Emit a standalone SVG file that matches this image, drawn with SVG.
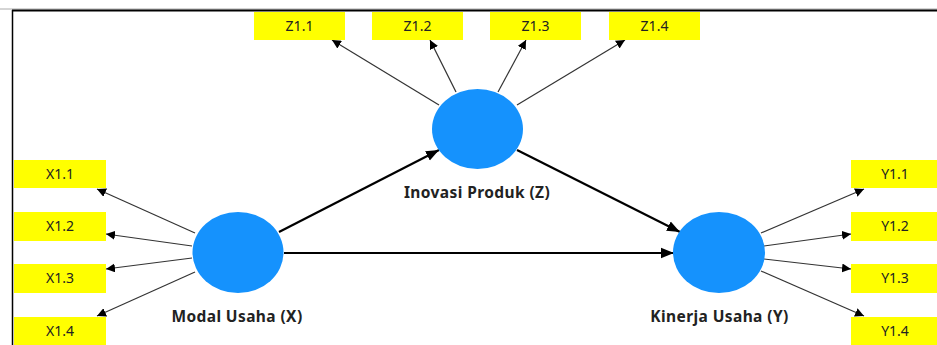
<svg xmlns="http://www.w3.org/2000/svg" width="937" height="345" viewBox="0 0 937 345">
<style>
.box{fill:#ffff00}
.bt{font-family:"Noto Sans","Open Sans",sans-serif;font-size:14px;fill:#222;text-anchor:middle}
.lv{fill:#1592fd}
.lab{font-family:"Noto Sans","Open Sans",sans-serif;font-size:15.5px;font-weight:bold;fill:#222;text-anchor:middle;letter-spacing:0.4px}
.thin{stroke:#333;stroke-width:1.2;fill:none;marker-end:url(#ah)}
.thick{stroke:#000;stroke-width:2.2;fill:none;marker-end:url(#ahb)}
</style>
<defs>
<marker id="ah" viewBox="0 0 10 10" refX="10" refY="5" markerWidth="9" markerHeight="9" markerUnits="userSpaceOnUse" orient="auto"><path d="M0,0 L10,5 L0,10 z" fill="#000"/></marker>
<marker id="ahb" viewBox="0 0 10 10" refX="10" refY="5" markerWidth="13" markerHeight="13" markerUnits="userSpaceOnUse" orient="auto"><path d="M0,1 L10,5 L0,9 z" fill="#000"/></marker>
</defs>
<rect width="937" height="345" fill="#fff"/>
<line x1="0" y1="9" x2="937" y2="9" stroke="#aaa" stroke-width="1"/>
<line x1="12" y1="10.5" x2="937" y2="10.5" stroke="#000" stroke-width="2"/>
<line x1="12.5" y1="10" x2="12.5" y2="345" stroke="#000" stroke-width="1.5"/>
<g id="connectors">
<line class="thin" x1="439" y1="105" x2="332" y2="40"/>
<line class="thin" x1="456" y1="92" x2="430" y2="40"/>
<line class="thin" x1="498" y1="92" x2="526" y2="40"/>
<line class="thin" x1="517" y1="105" x2="625" y2="40"/>
<line class="thin" x1="195" y1="233" x2="97" y2="189"/>
<line class="thin" x1="192" y1="246" x2="106" y2="234"/>
<line class="thin" x1="192" y1="258" x2="106" y2="269"/>
<line class="thin" x1="195" y1="272" x2="97" y2="316"/>
<line class="thin" x1="761" y1="233" x2="864" y2="189"/>
<line class="thin" x1="764" y1="246" x2="851" y2="234"/>
<line class="thin" x1="764" y1="259" x2="851" y2="269"/>
<line class="thin" x1="761" y1="271" x2="864" y2="316"/>
<line class="thick" x1="279" y1="232" x2="439" y2="150"/>
<line class="thick" x1="517" y1="150" x2="680" y2="232"/>
<line class="thick" x1="284" y1="253" x2="674" y2="253"/>
</g>
<g id="Z11"><rect class="box" x="254" y="12" width="91" height="28"/><text class="bt" x="299.5" y="31">Z1.1</text></g>
<g id="Z12"><rect class="box" x="372" y="12" width="91" height="28"/><text class="bt" x="417.5" y="31">Z1.2</text></g>
<g id="Z13"><rect class="box" x="490" y="12" width="91" height="28"/><text class="bt" x="535.5" y="31">Z1.3</text></g>
<g id="Z14"><rect class="box" x="609" y="12" width="91" height="28"/><text class="bt" x="654.5" y="31">Z1.4</text></g>
<g id="X11"><rect class="box" x="14" y="160" width="92" height="28"/><text class="bt" x="60" y="179">X1.1</text></g>
<g id="X12"><rect class="box" x="14" y="212" width="92" height="29"/><text class="bt" x="60" y="231">X1.2</text></g>
<g id="X13"><rect class="box" x="14" y="264" width="92" height="29"/><text class="bt" x="60" y="283">X1.3</text></g>
<g id="X14"><rect class="box" x="14" y="317" width="92" height="29"/><text class="bt" x="60" y="336">X1.4</text></g>
<g id="Y11"><rect class="box" x="851" y="160" width="90" height="28"/><text class="bt" x="895" y="179">Y1.1</text></g>
<g id="Y12"><rect class="box" x="851" y="212" width="90" height="29"/><text class="bt" x="895" y="231">Y1.2</text></g>
<g id="Y13"><rect class="box" x="851" y="264" width="90" height="29"/><text class="bt" x="895" y="283">Y1.3</text></g>
<g id="Y14"><rect class="box" x="851" y="317" width="90" height="29"/><text class="bt" x="895" y="336">Y1.4</text></g>
<g id="Z"><ellipse class="lv" cx="477.5" cy="129" rx="45.5" ry="40"/><text class="lab" x="477" y="198">Inovasi Produk (Z)</text></g>
<g id="X"><ellipse class="lv" cx="238" cy="252.5" rx="45.5" ry="40.5"/><text class="lab" x="237" y="322">Modal Usaha (X)</text></g>
<g id="Y"><ellipse class="lv" cx="719" cy="252.5" rx="46" ry="40.5"/><text class="lab" x="719.5" y="322">Kinerja Usaha (Y)</text></g>
</svg>
